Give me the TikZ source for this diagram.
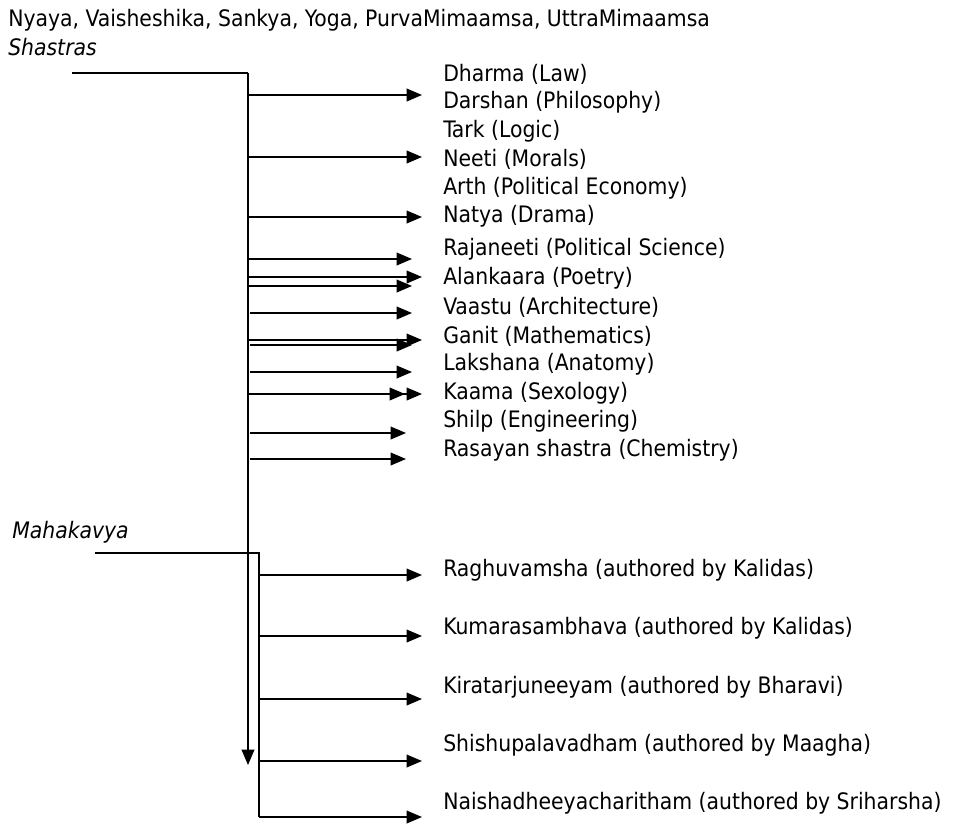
\documentclass[tikz,border=0pt]{standalone}
\usepackage{fontspec}
\setmainfont{DejaVu Sans Condensed}
\usetikzlibrary{arrows.meta}
\begin{document}
\begin{tikzpicture}[x=0.75pt,y=-0.75pt,
  lbl/.style={anchor=west,inner sep=0pt,font=\fontsize{17}{20}\selectfont},
  ilbl/.style={lbl,font=\fontsize{17}{20}\selectfont\itshape},
  bracket/.style={line width=1.6pt},
  spine/.style={line width=1.2pt},
  tip/.style={-{Triangle[length=11.5pt,width=9.5pt]}},
  arr/.style={line width=1.1pt,tip}]
\useasboundingbox (0,0) rectangle (966,824);

% headings
\node[lbl]  (title) at (8,20) {Nyaya, Vaisheshika, Sankya, Yoga, PurvaMimaamsa, UttraMimaamsa};
\node[ilbl] (shastras) at (8,47) {Shastras};
\node[ilbl] (mahakavya) at (12,532) {Mahakavya};

% shastra labels
\node[lbl] (dharma)   at (443,74)  {Dharma (Law)};
\node[lbl] (darshan)  at (443,102) {Darshan (Philosophy)};
\node[lbl] (tark)     at (443,131) {Tark (Logic)};
\node[lbl] (neeti)    at (443,159) {Neeti (Morals)};
\node[lbl] (arth)     at (443,188) {Arth (Political Economy)};
\node[lbl] (natya)    at (443,216) {Natya (Drama)};
\node[lbl] (rajaneeti) at (443,249) {Rajaneeti (Political Science)};
\node[lbl] (alankaara) at (443,278) {Alankaara (Poetry)};
\node[lbl] (vaastu)   at (443,307) {Vaastu (Architecture)};
\node[lbl] (ganit)    at (443,336) {Ganit (Mathematics)};
\node[lbl] (lakshana) at (443,364) {Lakshana (Anatomy)};
\node[lbl] (kaama)    at (443,393) {Kaama (Sexology)};
\node[lbl] (shilp)    at (443,421) {Shilp (Engineering)};
\node[lbl] (rasayan)  at (443,450) {Rasayan shastra (Chemistry)};

% mahakavya labels
\node[lbl] (raghu)   at (443,570) {Raghuvamsha (authored by Kalidas)};
\node[lbl] (kumara)  at (443,628) {Kumarasambhava (authored by Kalidas)};
\node[lbl] (kirat)   at (443,687) {Kiratarjuneeyam (authored by Bharavi)};
\node[lbl] (shishu)  at (443,745) {Shishupalavadham (authored by Maagha)};
\node[lbl] (naish)   at (443,803) {Naishadheeyacharitham (authored by Sriharsha)};

% Shastras bracket and spine
\coordinate (sL) at (72,73);
\coordinate (sC) at (248,73);
\coordinate (sEnd) at (248,765);
\draw[bracket] (sL) -- (sC);
\draw[spine,tip] (sC) -- (sEnd);

% shastra arrows
\foreach \y/\xs/\xe in {95/248/422, 157/248/422, 217/248/422, 259/248/412,
   277/248/422, 286/248/412, 313/250/412, 340/248/422, 345/250/412,
   372/250/412, 394/248/405, 394/248/422, 433/250/406, 459/250/406}{
  \coordinate (a\y s\xe) at (\xs,\y);
  \coordinate (a\y e\xe) at (\xe,\y);
  \draw[arr] (a\y s\xe) -- (a\y e\xe);
}

% Mahakavya bracket
\coordinate (mL) at (95,553);
\coordinate (mC) at (259,553);
\coordinate (mEnd) at (259,817);
\draw[bracket] (mL) -- (mC) -- (mEnd);

\foreach \y in {575,636,699,761,817}{
  \coordinate (m\y s) at (259,\y);
  \coordinate (m\y e) at (422,\y);
  \draw[arr] (m\y s) -- (m\y e);
}
\end{tikzpicture}
\end{document}
